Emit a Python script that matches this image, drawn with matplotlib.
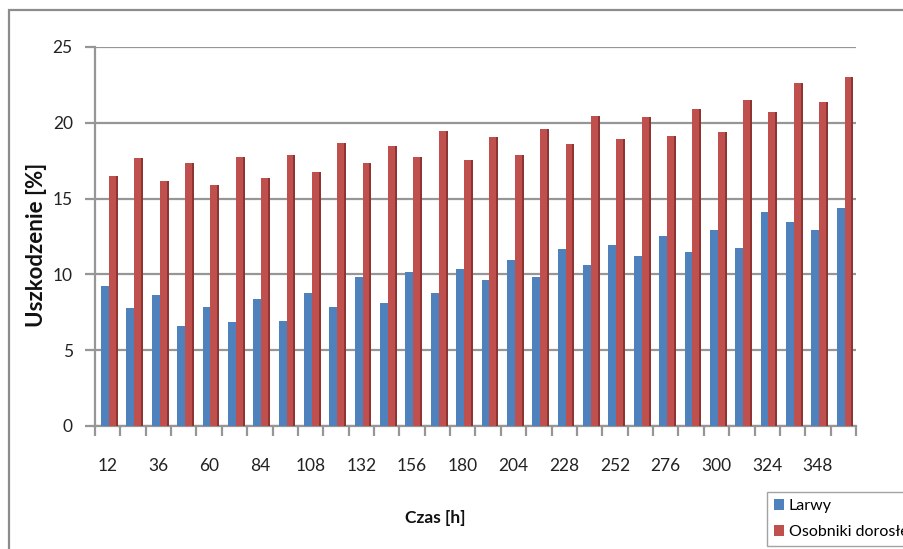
import matplotlib
matplotlib.use("Agg")
import matplotlib.pyplot as plt
import numpy as np
from matplotlib.patches import Rectangle

# ---- data ----
hours = list(range(12, 361, 12))  # 12 .. 360
larwy = [9.25, 7.76, 8.64, 6.60, 7.87, 6.88, 8.36, 6.95, 8.75, 7.87,
         9.85, 8.13, 10.14, 8.75, 10.34, 9.63, 10.95, 9.85, 11.66, 10.62,
         11.94, 11.23, 12.53, 11.46, 12.93, 11.74, 14.14, 13.44, 12.93, 14.40]
dorosle = [16.49, 17.68, 16.18, 17.37, 15.88, 17.76, 16.38, 17.88, 16.77, 18.65,
           17.37, 18.47, 17.76, 19.48, 17.55, 19.08, 17.88, 19.57, 18.58, 20.45,
           18.91, 20.38, 19.15, 20.89, 19.37, 21.52, 20.69, 22.61, 21.37, 23.02]
series_names = ["Larwy", "Osobniki dorosłe"]
y_ticks = [0, 5, 10, 15, 20, 25]
x_title = "Czas [h]"
y_title = "Uszkodzenie [%]"

plt.rcParams['font.family'] = ['Lato', 'DejaVu Sans']

W, H = 904, 549
fig = plt.figure(figsize=(W / 100, H / 100), dpi=100)

# chart area border (left/top visible)
fig.patches.append(Rectangle((9 / W, -0.1), 1.2, 1 - 10 / H + 0.1,
                             transform=fig.transFigure, fill=False,
                             edgecolor='#8c8c8c', linewidth=1.6, zorder=0))

left, right = 95 / W, 856 / W
bottom = 1 - 426 / H
top = 1 - 47 / H
ax = fig.add_axes([left, bottom, right - left, top - bottom])

x = np.arange(len(hours))
blue = '#4F81BD'
red = '#C0504D'
red_side = '#8E3432'

ax.bar(x - 0.26, larwy, width=0.31, align='edge', color=blue, zorder=3,
       label=series_names[0])
ax.bar(x + 0.05, dorosle, width=0.27, align='edge', color=red, zorder=3,
       label=series_names[1])
ax.bar(x + 0.32, dorosle, width=0.08, align='edge', color=red_side, zorder=3)

ax.set_xlim(-0.5, len(hours) - 0.5)
ax.set_ylim(0, 25)

# gridlines
ax.set_yticks(y_ticks)
ax.yaxis.grid(True, color='#969696', linewidth=1.6, zorder=0)
ax.set_axisbelow(True)

for s in ['top', 'right']:
    ax.spines[s].set_visible(False)
for s in ['left', 'bottom']:
    ax.spines[s].set_color('#969696')
    ax.spines[s].set_linewidth(1.6)

ax.tick_params(axis='y', direction='out', length=7, width=1.6, color='#969696',
               labelsize=12.5, labelcolor='#222222', pad=9)

# x ticks at category boundaries, labels at every other category center
ax.set_xticks(np.arange(len(hours) + 1) - 0.5)
ax.set_xticklabels([])
ax.set_xticks(x[::2], minor=True)
ax.set_xticklabels([str(h) for h in hours[::2]], minor=True)
ax.tick_params(axis='x', which='major', direction='out', length=7, width=1.6,
               color='#969696')
ax.tick_params(axis='x', which='minor', length=0, labelsize=12.5,
               labelcolor='#222222', pad=23)

fig.text(435 / W, 1 - 518 / H, x_title, ha='center', va='center',
         fontsize=12.5, fontweight='bold', color='#111111')
fig.text(37 / W, 1 - 245 / H, y_title, ha='center', va='center',
         rotation=90, fontsize=16, fontweight='bold', color='#111111')

h, l = ax.get_legend_handles_labels()
leg = fig.legend(h, l, loc='upper left', bbox_to_anchor=(767 / W, 1 - 492 / H),
                 frameon=True, fancybox=False, edgecolor='#8c8c8c',
                 fontsize=11.5, handlelength=0.6, handleheight=0.6,
                 handletextpad=0.3, labelspacing=0.75, borderpad=0.45,
                 borderaxespad=0)
leg.get_frame().set_linewidth(1.0)

fig.savefig('out.png', dpi=100)
